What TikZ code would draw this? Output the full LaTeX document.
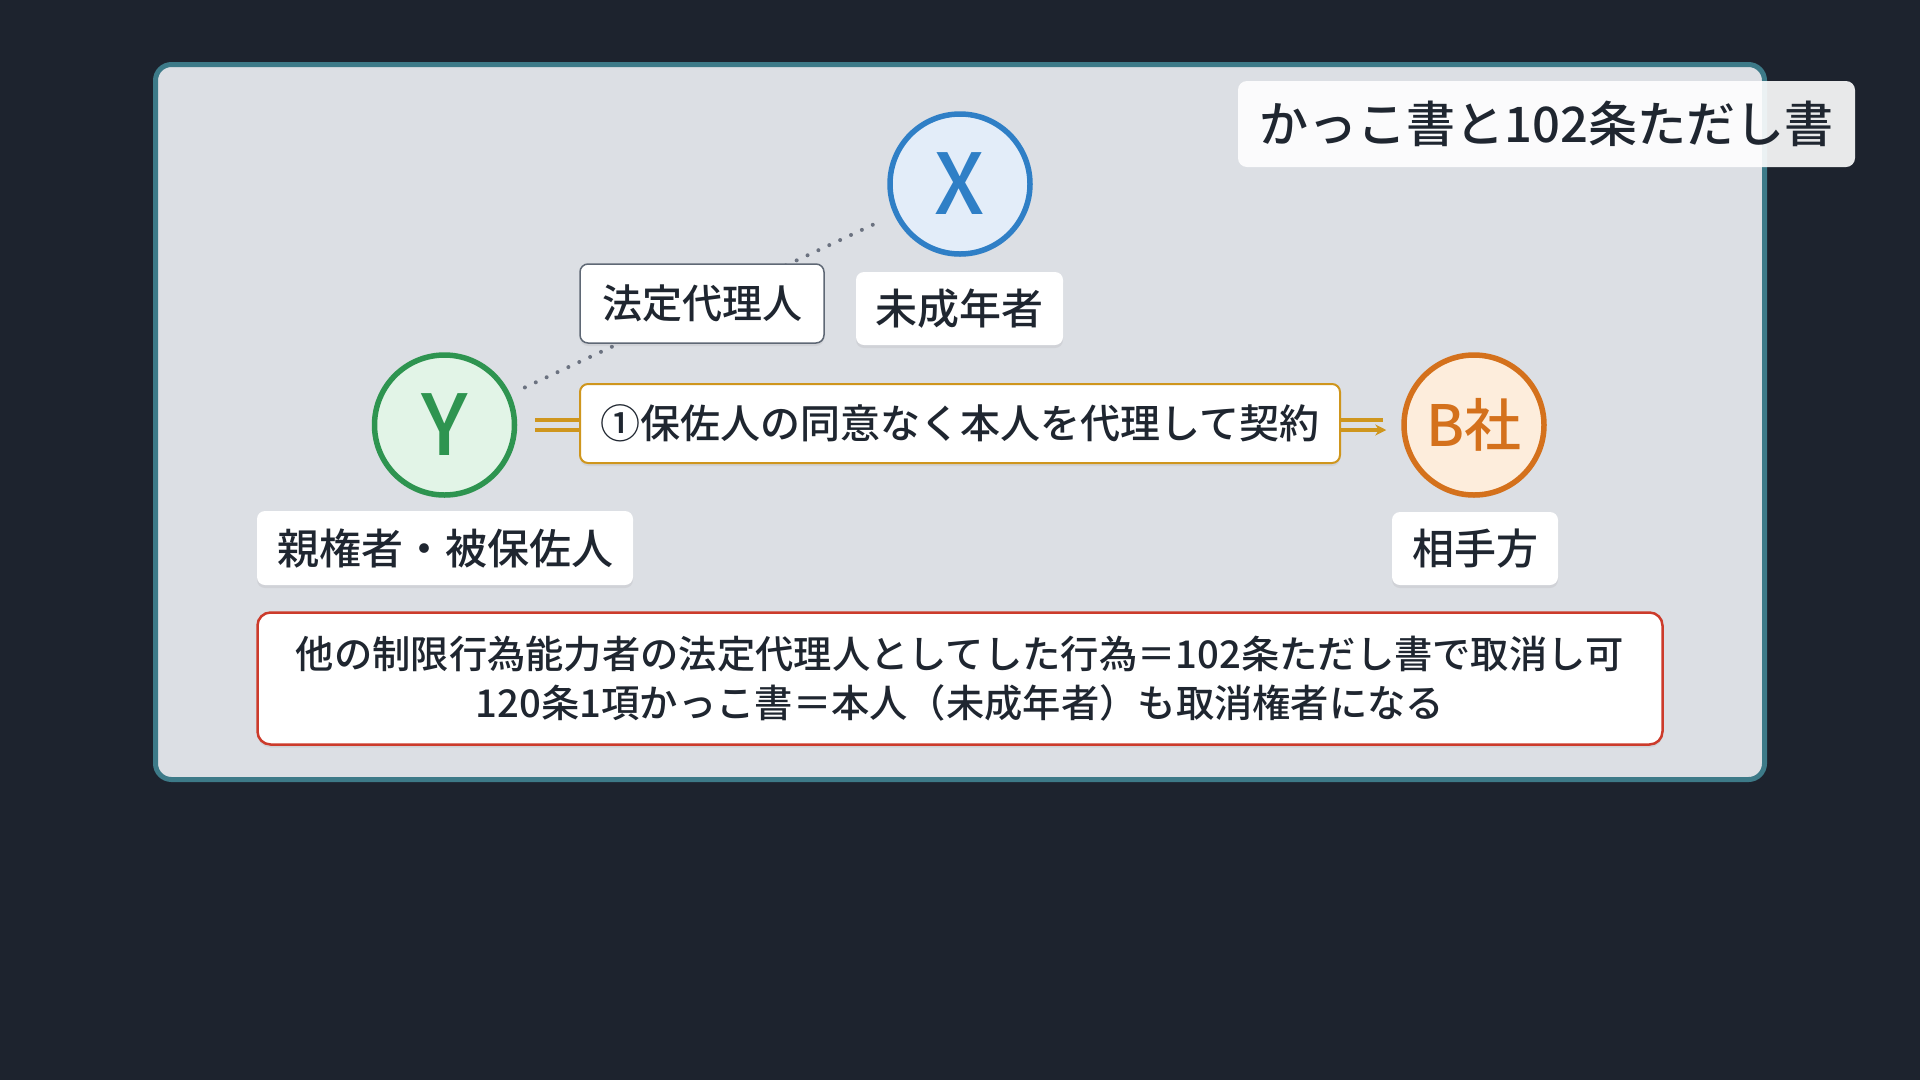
\documentclass[tikz,border=0pt]{standalone}
\usepackage{fontspec}
\setmainfont{Noto Sans CJK JP}[UprightFont=* Medium, BoldFont=* Bold]
\usetikzlibrary{shadows,arrows.meta}
\definecolor{bgc}{RGB}{29,35,46}
\definecolor{panelfill}{RGB}{220,223,228}
\definecolor{panelline}{RGB}{61,122,136}
\definecolor{txt}{RGB}{31,38,48}
\definecolor{xblue}{RGB}{47,127,198}
\definecolor{xfill}{RGB}{227,237,249}
\definecolor{ygreen}{RGB}{46,148,80}
\definecolor{yfill}{RGB}{226,244,231}
\definecolor{borange}{RGB}{212,113,28}
\definecolor{bfill}{RGB}{253,237,220}
\definecolor{gold}{RGB}{207,150,29}
\definecolor{redline}{RGB}{204,59,43}
\definecolor{dotgray}{RGB}{107,114,128}
\definecolor{lblgray}{RGB}{95,104,117}
\tikzset{
  softshadow/.style={drop shadow={opacity=0.13,shadow xshift=0pt,shadow yshift=-3pt}},
  party/.style={circle, line width=5.5pt, minimum size=140pt, inner sep=0pt, softshadow},
  lbl/.style={rounded corners=8pt, fill=white, text=txt, inner sep=0pt,
    font=\fontsize{42}{50}\selectfont, softshadow},
}
\begin{document}
\begin{tikzpicture}[x=1pt,y=-1pt]
\fill[bgc] (0,0) rectangle (1920,1080);
\useasboundingbox (0,0) rectangle (1920,1080);
% panel
\node[draw=panelline, fill=panelfill, line width=5pt, rounded corners=16pt,
  minimum width=1609pt, minimum height=715pt, inner sep=0pt] (panel) at (960,422) {};
% title
\node[rounded corners=9pt, fill=white, fill opacity=0.9, text opacity=1, text=txt,
  minimum width=617pt, minimum height=86pt, inner sep=0pt,
  font=\fontsize{49}{56}\selectfont] (title) at (1546.5,124) {かっこ書と102条ただし書};
% parties
\node[party, draw=xblue, fill=xfill, text=xblue, font=\fontsize{84}{94}\selectfont] (X) at (960,184) {X};
\node[party, draw=ygreen, fill=yfill, text=ygreen, font=\fontsize{84}{94}\selectfont] (Y) at (444.5,425) {Y};
\node[party, draw=borange, fill=bfill, text=borange, font=\fontsize{57}{66}\selectfont] (B) at (1474,425) {B社};
% dotted relation
\draw[dotgray, line width=4pt, line cap=round, dash pattern=on 0pt off 12pt,
  shorten <=16pt, shorten >=16pt] (Y) -- (X);
% double arrow
\draw[gold, line width=4pt, shorten <=18pt, shorten >=18pt]
  ([yshift=5pt]Y.east) -- ([yshift=5pt]B.west);
\draw[gold, line width=4pt, shorten <=18pt, shorten >=15pt,
  -{Stealth[length=11pt,width=11pt]}]
  ([yshift=-5pt]Y.east) -- ([yshift=-5pt]B.west);
% labels
\node[lbl, draw=lblgray, line width=1.5pt, minimum width=244pt, minimum height=79pt,
  font=\fontsize{40}{48}\selectfont] (rep) at (702,303.5) {法定代理人};
\node[lbl, minimum width=207pt, minimum height=73pt] (xl) at (959.5,308.5) {未成年者};
\node[lbl, minimum width=376pt, minimum height=74pt] (yl) at (445,548) {親権者・被保佐人};
\node[lbl, minimum width=166pt, minimum height=73pt] (bl) at (1475,548.5) {相手方};
\node[lbl, draw=gold, line width=2pt, minimum width=760pt, minimum height=79pt,
  font=\fontsize{40}{48}\selectfont] (act) at (960,423.5) {①保佐人の同意なく本人を代理して契約};
% note
\node[rounded corners=13pt, draw=redline, line width=2.5pt, fill=white, text=txt,
  minimum width=1405pt, minimum height=132pt, inner sep=0pt, align=center,
  font=\fontsize{38.3}{49}\selectfont, softshadow] (note) at (960,678.5)
  {他の制限行為能力者の法定代理人としてした行為＝102条ただし書で取消し可\\120条1項かっこ書＝本人（未成年者）も取消権者になる};
\end{tikzpicture}
\end{document}
